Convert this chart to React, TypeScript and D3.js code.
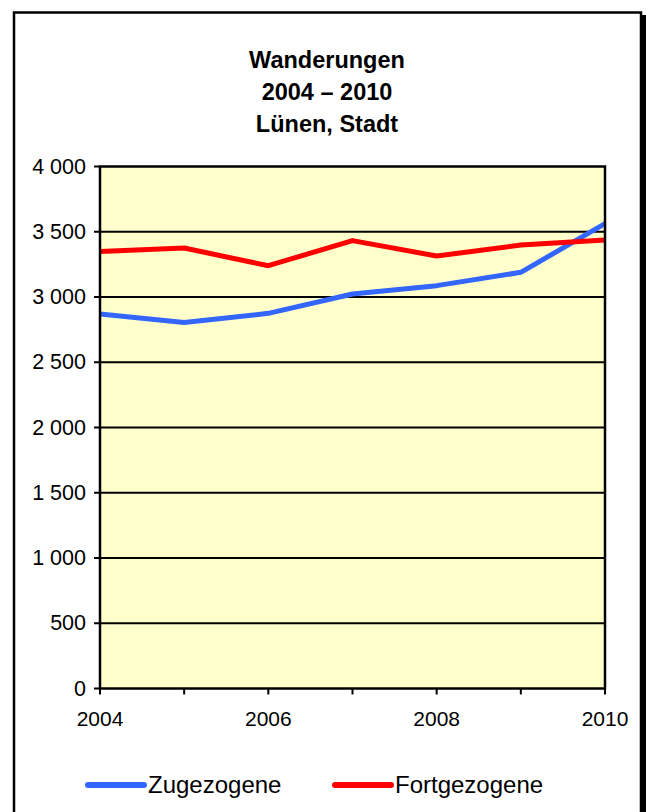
import React from 'react';
import * as d3 from 'd3';

const years = [2004, 2005, 2006, 2007, 2008, 2009, 2010];
const zugezogene = [2870, 2804, 2875, 3023, 3087, 3189, 3562];
const fortgezogene = [3348, 3375, 3240, 3432, 3314, 3398, 3437];
const yTicks = [0, 500, 1000, 1500, 2000, 2500, 3000, 3500, 4000];
const xLabels = [2004, 2006, 2008, 2010];
const titleLines = ['Wanderungen', '2004 – 2010', 'Lünen, Stadt'];
const series = [
  { name: 'Zugezogene', values: zugezogene, color: '#3366FF' },
  { name: 'Fortgezogene', values: fortgezogene, color: '#FF0000' },
];

const W = 646;
const H = 812;
const plot = { left: 100, right: 605, top: 166.5, bottom: 688.5 };
const font = 'Arial, "Liberation Sans", sans-serif';

// "4000" -> "4 000"
const fmt = (v: number) => {
  const s = String(v);
  return s.length > 3 ? s.slice(0, s.length - 3) + ' ' + s.slice(-3) : s;
};

export default function App() {
  const x = d3.scaleLinear().domain([2004, 2010]).range([plot.left, plot.right]);
  const y = d3.scaleLinear().domain([0, 4000]).range([plot.bottom, plot.top]);
  const line = d3.line<number>()
    .x((_, i) => x(years[i]))
    .y(d => y(d));

  return (
    <div style={{ position: 'absolute', left: 0, top: 0 }}>
      <svg width={W} height={H} style={{ display: 'block' }}>
        {/* frame with shadow */}
        <rect x={17} y={15} width={629} height={820} fill="#000" />
        <rect x={14} y={12.5} width={627} height={820} fill="#fff" stroke="#000" strokeWidth={2.5} />

        {titleLines.map((t, i) => (
          <text key={t} x={327} y={68 + i * 32} textAnchor="middle" fontFamily={font}
            fontWeight="bold" fontSize={23.5}>{t}</text>
        ))}

        <rect x={plot.left} y={plot.top} width={plot.right - plot.left} height={plot.bottom - plot.top}
          fill="#FFFFCC" />

        {yTicks.map(t => (
          <g key={t}>
            {t > 0 && t < 4000 && (
              <line x1={plot.left} x2={plot.right} y1={y(t)} y2={y(t)} stroke="#000" strokeWidth={2} />
            )}
            <line x1={plot.left - 6} x2={plot.left} y1={y(t)} y2={y(t)} stroke="#000" strokeWidth={2} />
            <text x={86} y={y(t) + 7} textAnchor="end" fontFamily={font} fontSize={21.5}>{fmt(t)}</text>
          </g>
        ))}

        {years.map(yr => (
          <line key={yr} x1={x(yr)} x2={x(yr)} y1={plot.bottom} y2={plot.bottom + 6} stroke="#000" strokeWidth={2} />
        ))}
        {xLabels.map(yr => (
          <text key={yr} x={x(yr)} y={726} textAnchor="middle" fontFamily={font} fontSize={21}>{yr}</text>
        ))}

        {series.map(s => (
          <path key={s.name} d={line(s.values) || ''} fill="none" stroke={s.color} strokeWidth={5}
            strokeLinejoin="round" />
        ))}

        <rect x={plot.left} y={plot.top} width={plot.right - plot.left} height={plot.bottom - plot.top}
          fill="none" stroke="#000" strokeWidth={2.5} />

        {series.map((s, i) => {
          const lx = i === 0 ? 88 : 335;
          return (
            <g key={s.name}>
              <line x1={lx} x2={lx + 56} y1={785} y2={785} stroke={s.color} strokeWidth={6} strokeLinecap="round" />
              <text x={lx + 60} y={793} fontFamily={font} fontSize={24}>{s.name}</text>
            </g>
          );
        })}
      </svg>
    </div>
  );
}
